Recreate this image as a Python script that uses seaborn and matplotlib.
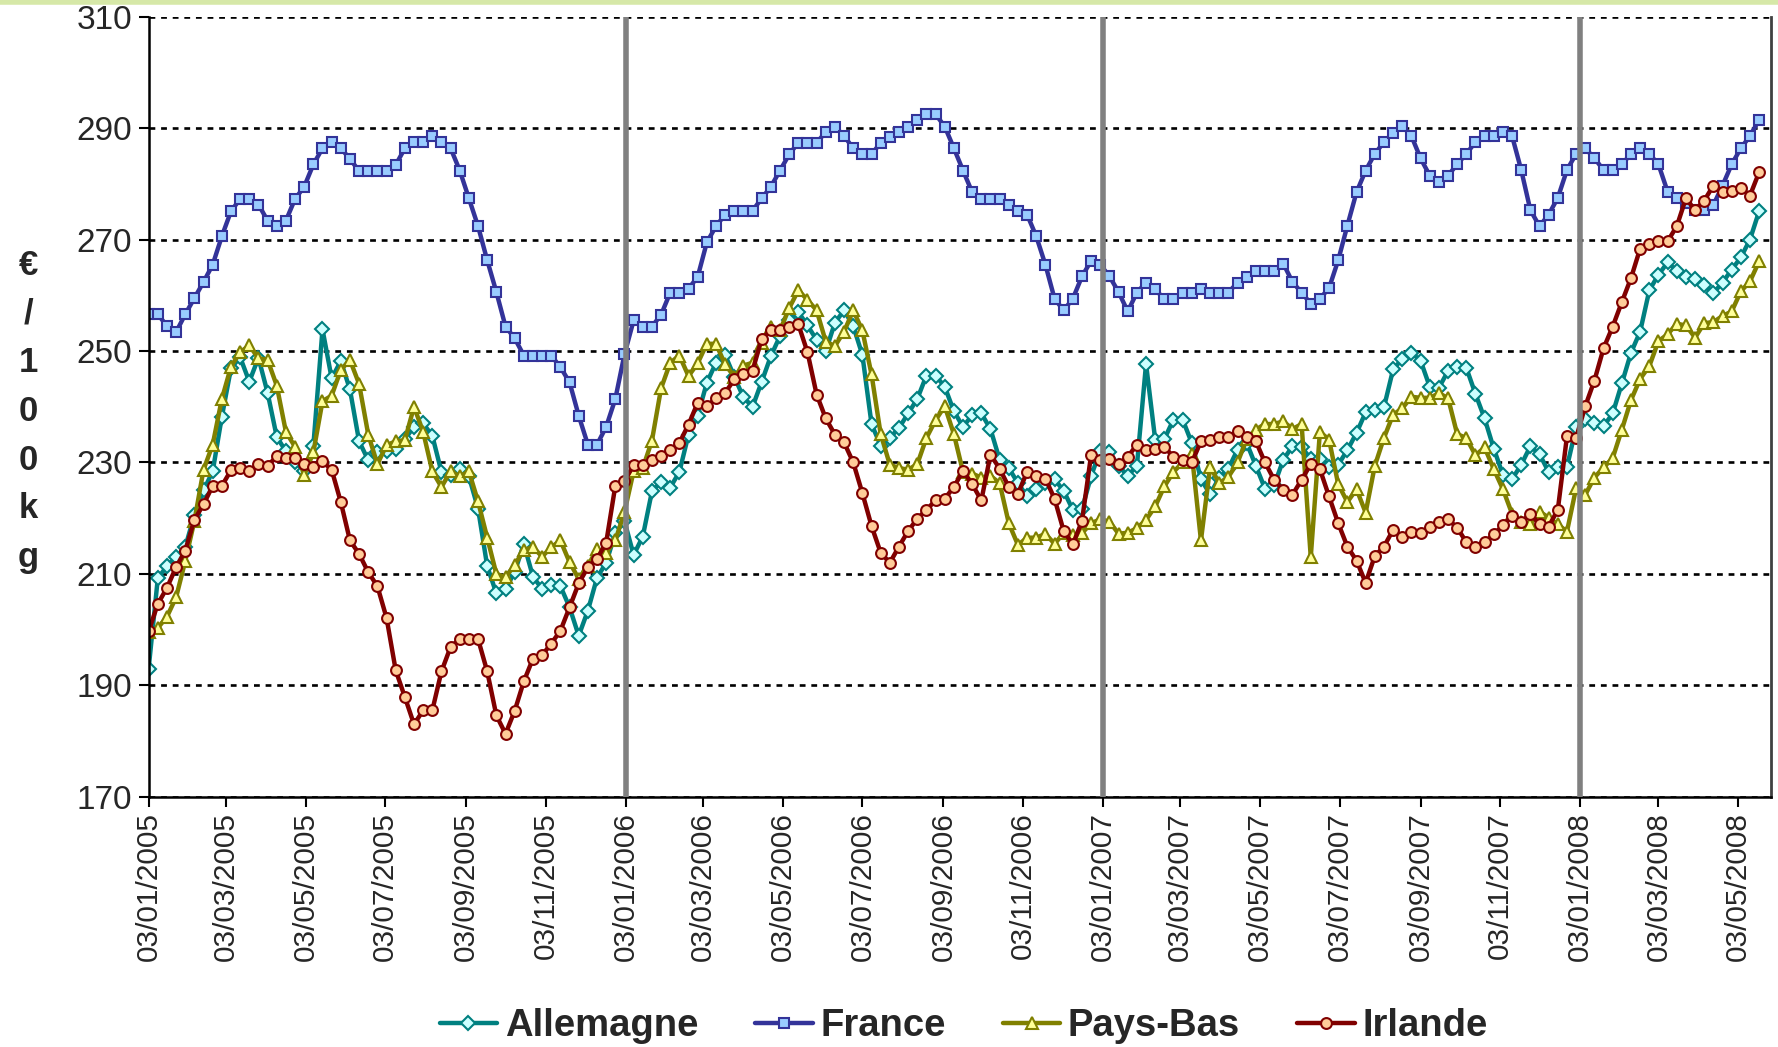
import seaborn as sns
from matplotlib import pyplot as plt
import pandas as pd

sns.set_theme(style="white")
plt.rcParams['font.family'] = ['Liberation Sans', 'DejaVu Sans']

# weekly prices, first week 03/01/2005
first_week = '2005-01-03'

allemagne = [193.0, 209.2, 211.4, 213.0, 214.8, 220.6, 225.0, 228.4, 238.2, 246.9,
             248.9, 244.5, 248.8, 242.5, 234.6, 232.0, 230.0, 228.5, 233.0, 253.9,
             245.1, 248.2, 243.1, 233.8, 230.4, 231.8, 232.1, 232.5, 234.2, 236.4,
             237.0, 234.8, 228.3, 227.8, 228.8, 227.5, 221.7, 211.4, 206.5, 207.3,
             210.3, 215.4, 209.5, 207.3, 208.0, 207.8, 204.0, 198.9, 203.4, 209.3,
             212.0, 217.3, 219.5, 213.4, 216.7, 224.8, 226.5, 225.5, 228.3, 235.0,
             238.4, 244.3, 247.9, 249.3, 245.4, 241.7, 240.0, 244.5, 249.1, 252.7,
             255.5, 257.0, 254.6, 252.0, 250.0, 255.1, 257.3, 254.5, 249.3, 236.9,
             233.0, 234.4, 236.2, 238.8, 241.4, 245.6, 245.6, 243.6, 239.2, 236.4,
             238.5, 238.8, 236.0, 230.5, 229.0, 226.3, 223.9, 225.2, 226.3, 227.0,
             224.9, 221.5, 221.6, 227.6, 232.1, 231.8, 229.4, 227.6, 229.4, 247.7,
             234.1, 234.2, 237.7, 237.7, 233.5, 227.0, 224.3, 227.3, 228.9, 232.3,
             233.5, 229.4, 225.3, 225.9, 230.5, 232.9, 232.7, 230.7, 230.7, 229.1,
             229.6, 232.2, 235.3, 239.0, 239.5, 239.9, 246.7, 248.6, 249.7, 248.3,
             243.6, 243.4, 246.4, 247.2, 247.0, 242.3, 237.9, 232.5, 227.8, 227.0,
             229.6, 232.9, 231.5, 228.3, 229.2, 229.2, 236.3, 237.8, 237.0, 236.5,
             238.8, 244.2, 249.7, 253.5, 260.9, 263.7, 265.9, 264.4, 263.2, 262.9,
             261.8, 260.4, 262.3, 264.6, 266.8, 270.0, 275.1]

france = [256.6, 256.6, 254.5, 253.4, 256.6, 259.5, 262.4, 265.5, 270.6, 275.1,
          277.3, 277.3, 276.3, 273.4, 272.4, 273.4, 277.3, 279.5, 283.5, 286.4,
          287.5, 286.4, 284.5, 282.3, 282.3, 282.3, 282.3, 283.4, 286.4, 287.5,
          287.6, 288.6, 287.5, 286.4, 282.4, 277.4, 272.4, 266.3, 260.6, 254.4,
          252.3, 249.2, 249.2, 249.2, 249.2, 247.1, 244.4, 238.4, 233.2, 233.2,
          236.4, 241.4, 249.4, 255.5, 254.4, 254.4, 256.5, 260.5, 260.5, 261.2,
          263.3, 269.5, 272.4, 274.5, 275.2, 275.2, 275.2, 277.4, 279.5, 282.4,
          285.3, 287.4, 287.4, 287.4, 289.3, 290.3, 288.6, 286.4, 285.3, 285.3,
          287.4, 288.4, 289.3, 290.3, 291.4, 292.5, 292.5, 290.3, 286.4, 282.4,
          278.5, 277.3, 277.2, 277.2, 276.3, 275.2, 274.5, 270.6, 265.5, 259.4,
          257.3, 259.4, 263.4, 266.2, 265.5, 263.4, 260.6, 257.1, 260.5, 262.3,
          261.1, 259.3, 259.3, 260.5, 260.5, 261.1, 260.5, 260.5, 260.5, 262.3,
          263.3, 264.4, 264.4, 264.4, 265.7, 262.4, 260.5, 258.5, 259.4, 261.3,
          266.3, 272.5, 278.5, 282.4, 285.4, 287.5, 289.2, 290.4, 288.6, 284.6,
          281.5, 280.4, 281.5, 283.5, 285.4, 287.5, 288.6, 288.6, 289.4, 288.6,
          282.5, 275.3, 272.4, 274.5, 277.5, 282.5, 285.4, 286.4, 284.6, 282.5,
          282.5, 283.5, 285.4, 286.4, 285.4, 283.5, 278.6, 277.4, 276.6, 275.3,
          275.3, 276.2, 279.7, 283.5, 286.4, 288.6, 291.5]

pays_bas = [199.5, 200.3, 202.3, 205.8, 212.3, 219.5, 228.7, 233.2, 241.4, 247.2,
            249.8, 251.0, 248.7, 248.4, 243.8, 235.5, 232.8, 227.7, 231.8, 241.0,
            242.0, 246.6, 248.4, 244.1, 235.0, 229.7, 233.1, 233.8, 234.0, 240.0,
            235.5, 228.4, 225.6, 228.4, 227.5, 228.4, 223.0, 216.5, 210.0, 209.4,
            211.6, 214.3, 214.8, 213.1, 214.8, 216.0, 212.1, 209.1, 211.5, 214.4,
            213.8, 216.0, 221.1, 228.4, 229.0, 233.9, 243.3, 247.9, 249.2, 245.5,
            247.8, 251.3, 251.3, 247.6, 245.4, 247.4, 247.9, 251.5, 254.4, 253.7,
            257.7, 260.9, 259.2, 257.3, 251.7, 250.9, 253.5, 257.3, 253.7, 245.8,
            235.1, 229.6, 229.0, 228.7, 229.7, 234.4, 237.6, 240.1, 235.1, 228.3,
            228.0, 227.3, 227.6, 226.3, 219.1, 215.2, 216.5, 216.5, 217.2, 215.4,
            217.3, 217.0, 217.3, 219.1, 219.8, 219.4, 217.2, 217.4, 218.2, 219.7,
            222.1, 225.7, 228.3, 230.0, 231.6, 216.0, 229.2, 226.3, 227.4, 230.0,
            234.2, 235.9, 236.9, 236.9, 237.4, 236.0, 236.9, 213.0, 235.5, 234.1,
            226.1, 222.9, 225.2, 221.0, 229.4, 234.4, 238.6, 239.7, 241.8, 241.6,
            241.6, 242.4, 241.6, 235.1, 234.4, 231.3, 232.7, 228.8, 225.2, 220.8,
            219.3, 219.0, 221.2, 220.1, 218.9, 217.6, 225.4, 224.2, 227.3, 229.1,
            230.8, 235.9, 241.2, 245.0, 247.3, 251.8, 253.0, 254.9, 254.6, 252.4,
            255.0, 255.2, 256.3, 257.1, 260.7, 262.5, 266.1]

irlande = [199.7, 204.6, 207.5, 211.2, 214.2, 219.7, 222.5, 225.8, 225.8, 228.6,
           229.0, 228.4, 229.7, 229.4, 231.1, 230.8, 230.8, 229.7, 229.2, 230.2,
           228.7, 222.9, 216.0, 213.6, 210.3, 207.8, 202.1, 192.7, 187.9, 183.0,
           185.5, 185.5, 192.5, 196.9, 198.3, 198.3, 198.3, 192.5, 184.6, 181.3,
           185.4, 190.7, 194.8, 195.4, 197.5, 199.8, 204.0, 208.3, 211.2, 212.7,
           215.6, 225.8, 226.7, 229.5, 229.5, 230.5, 231.2, 232.2, 233.5, 236.8,
           240.7, 240.1, 241.5, 242.5, 244.9, 245.8, 246.5, 252.2, 253.7, 253.7,
           254.4, 254.8, 249.8, 242.2, 237.9, 235.0, 233.6, 230.0, 224.5, 218.6,
           213.8, 212.0, 214.9, 217.7, 219.9, 221.5, 223.2, 223.5, 225.6, 228.5,
           226.1, 223.2, 231.4, 228.9, 225.6, 224.4, 228.3, 227.5, 227.1, 223.5,
           217.7, 215.3, 219.5, 231.4, 230.5, 230.7, 229.7, 231.0, 233.2, 232.2,
           232.4, 232.8, 231.0, 230.5, 230.0, 233.8, 234.0, 234.6, 234.6, 235.6,
           234.6, 233.8, 230.0, 226.9, 225.0, 224.2, 226.9, 229.7, 228.8, 223.9,
           219.1, 214.9, 212.4, 208.4, 213.2, 214.9, 217.9, 216.6, 217.6, 217.4,
           218.4, 219.3, 219.8, 218.3, 215.7, 214.9, 215.7, 217.1, 218.7, 220.4,
           219.3, 220.8, 218.9, 218.5, 221.5, 234.7, 234.4, 240.1, 244.7, 250.5,
           254.4, 258.8, 263.1, 268.4, 269.3, 269.7, 269.7, 272.4, 277.4, 275.3,
           277.0, 279.7, 278.5, 278.8, 279.3, 277.9, 282.1]

tick_labels = ['03/01/2005', '03/03/2005', '03/05/2005', '03/07/2005', '03/09/2005',
               '03/11/2005', '03/01/2006', '03/03/2006', '03/05/2006', '03/07/2006',
               '03/09/2006', '03/11/2006', '03/01/2007', '03/03/2007', '03/05/2007',
               '03/07/2007', '03/09/2007', '03/11/2007', '03/01/2008', '03/03/2008',
               '03/05/2008']
year_marks = ['03/01/2006', '03/01/2007', '03/01/2008']

df = pd.DataFrame({
    'date': pd.date_range(first_week, periods=len(france), freq='7D'),
    'Allemagne': allemagne,
    'France': france,
    'Pays-Bas': pays_bas,
    'Irlande': irlande,
})

styles = {
    'Allemagne': dict(color='#008080', marker='D', markersize=6.8, markerfacecolor='#ccffff'),
    'France': dict(color='#333399', marker='s', markersize=7.3, markerfacecolor='#99ccff'),
    'Pays-Bas': dict(color='#808000', marker='^', markersize=8.8, markerfacecolor='#ffff99'),
    'Irlande': dict(color='#800000', marker='o', markersize=7.8, markerfacecolor='#ffcc99'),
}

fig = plt.figure(figsize=(17.78, 10.47), dpi=100)
ax = fig.add_axes([0.0836, 0.239, 0.9124, 0.745])

for name, st in styles.items():
    sns.lineplot(data=df, x='date', y=name, ax=ax, label=name, linewidth=3.2,
                 markeredgecolor=st['color'], markeredgewidth=1.5, **st)

for d in year_marks:
    ax.axvline(pd.to_datetime(d, dayfirst=True), color='#808080', linewidth=4, zorder=5)

ax.set_ylim(170, 310)
ax.set_yticks(range(170, 311, 20))
ax.set_xlim(pd.Timestamp('2005-01-03'), pd.Timestamp('2008-05-28'))
ax.set_xticks(pd.to_datetime(tick_labels, dayfirst=True))
ax.set_xticklabels(tick_labels, rotation=90, fontsize=21.5)
ax.tick_params(axis='y', labelsize=24, left=True, length=7, width=1.5, color='black', pad=5)
ax.tick_params(axis='x', bottom=True, length=7, width=1.5, color='black', pad=4)
ax.set_xlabel('')
ax.set_ylabel('')
ax.yaxis.grid(True, color='black', linestyle=(0, (2.2, 2.2)), linewidth=1.9)
ax.set_axisbelow(True)
for s in ['left', 'bottom']:
    ax.spines[s].set_color('black')
    ax.spines[s].set_linewidth(1.8)
ax.spines['right'].set_color('#404040')
ax.spines['right'].set_linewidth(2)
ax.spines['top'].set_visible(False)

fig.text(0.016, 0.607, '€\n/\n1\n0\n0\nk\ng', ha='center', va='center',
         fontsize=25, fontweight='bold', linespacing=1.6)

handles, labels = ax.get_legend_handles_labels()
ax.get_legend().remove()
fig.legend(handles, labels, loc='lower center', bbox_to_anchor=(0.542, -0.03), ncol=4,
           frameon=False, prop={'size': 27.5, 'weight': 'bold'},
           handlelength=1.5, handletextpad=0.2, columnspacing=1.5)

fig.add_artist(plt.Line2D([0, 1], [0.998, 0.998], color='#d6e8a8', linewidth=4))

plt.savefig('out.png', dpi=100)
